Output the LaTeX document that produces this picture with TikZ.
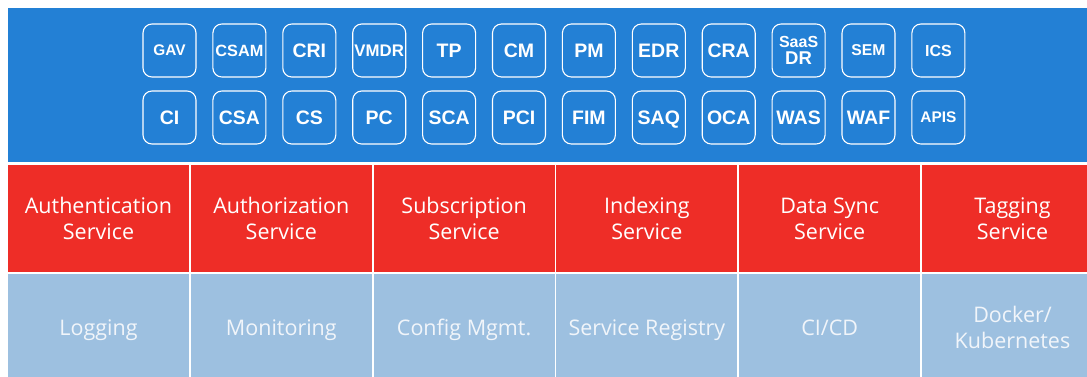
\documentclass[tikz,border=0pt]{standalone}
\usepackage{fontspec}
\setmainfont{Open Sans}
\setsansfont{Liberation Sans}

\definecolor{topblue}{RGB}{35,128,213}
\definecolor{svcred}{RGB}{238,45,39}
\definecolor{infrablue}{RGB}{157,192,224}
\definecolor{infratext}{RGB}{241,245,250}

\newcommand{\cellstrut}{\rule[-5.5pt]{0pt}{26pt}}

\tikzset{
	module/.style={draw=white, line width=1.1pt, rounded corners=9pt, minimum width=53pt, minimum height=53pt, inner sep=0pt, text=white, align=center},
	cell/.style={minimum width=181pt, minimum height=107pt, inner sep=0pt, align=center, font=\fontsize{21.5}{26}\selectfont},
	service/.style={cell, fill=svcred, text=white},
	infra/.style={cell, fill=infrablue, text=infratext}
}

\begin{document}
\begin{tikzpicture}[x=1pt, y=-1pt]
	\useasboundingbox (0,0) rectangle (1087,376);
	\clip (0,0) rectangle (1087,376);

	% module panel
	\fill [topblue] (8,8) rectangle (1087,162);
	\foreach \lbl/\fs [count=\i from 0] in {GAV/15.4, CSAM/16.3, CRI/19.5, VMDR/16.8, TP/19.5, CM/19.5, PM/19.5, EDR/19.5, CRA/19.5, {{\fontsize{16}{17}\selectfont SaaS}\\DR}/18.5, SEM/15.7, ICS/16}
		\node [module, font=\sffamily\bfseries\fontsize{\fs}{17.5}\selectfont] (top\i) at (169.5+\i*69.9, 50.5) {\lbl};
	\foreach \lbl/\fs [count=\i from 0] in {CI/19.5, CSA/19.4, CS/19.5, PC/19.5, SCA/19.5, PCI/19.5, FIM/19.5, SA\smash{Q}/19.5, OCA/19.5, WAS/19.5, WAF/19.5, APIS/15.4}
		\node [module, font=\sffamily\bfseries\fontsize{\fs}{17.5}\selectfont] (bot\i) at (169.5+\i*69.9, 117.5) {\lbl};

	% service layer
	\foreach \lbl [count=\i from 0] in {Authentication, Authorization, Subscription, Indexing, Data Sync, Tagging}
		\node [service] (svc\i) at (98.5+\i*182.8, 218.5) {\lbl\\Service};

	% infrastructure layer
	\foreach \lbl [count=\i from 0] in {Logging, Monitoring, Config Mgmt., Service Registry, CI/CD}
		\node [infra] (inf\i) at (98.5+\i*182.8, 327.5) {\cellstrut\lbl};
	\node [infra] (inf5) at (98.5+5*182.8, 327.5) {Docker/\\Kubernetes};
\end{tikzpicture}
\end{document}
